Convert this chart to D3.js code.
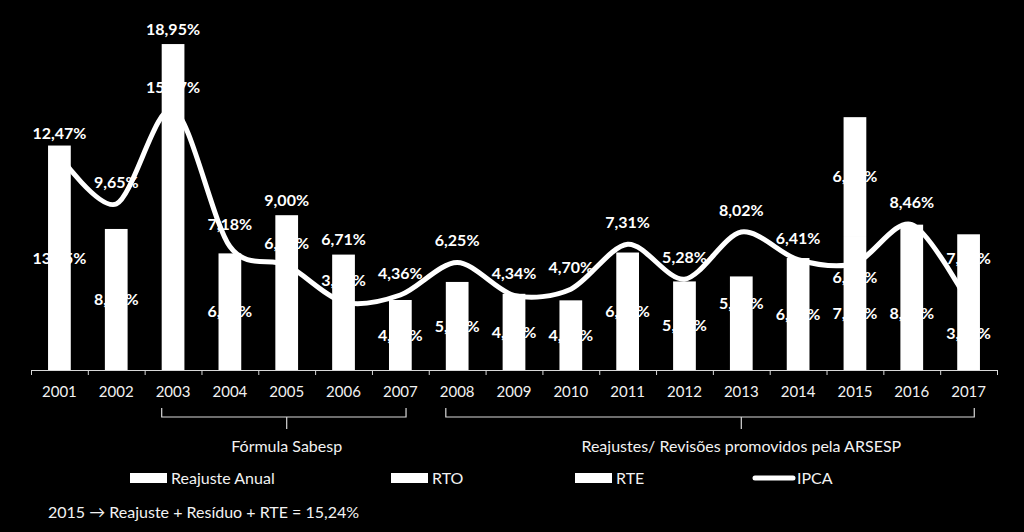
<!DOCTYPE html>
<html>
<head>
<meta charset="utf-8">
<script src="https://cdn.jsdelivr.net/npm/d3@7"></script>
<style>
  html, body { margin: 0; padding: 0; background: #000; }
  svg { display: block; font-family: Lato, "Open Sans", sans-serif; }
</style>
</head>
<body>
<svg id="chart" width="1024" height="532"></svg>
<script>
// values (%)
const years = ["2001", "2002", "2003", "2004", "2005", "2006", "2007", "2008", "2009",
  "2010", "2011", "2012", "2013", "2014", "2015", "2016", "2017"];
const reajuste = [13.05, 8.20, 18.95, 6.78, 9.00, 6.71, 4.07, 5.12, 4.43,
  4.05, 6.83, 5.15, 5.44, 6.51, 7.79, 8.45, 7.89];
const rte = [0, 0, 0, 0, 0, 0, 0, 0, 0, 0, 0, 0, 0, 0, 6.91, 0, 0];
const ipca = [12.47, 9.65, 15.17, 7.18, 6.10, 3.95, 4.36, 6.25, 4.34,
  4.70, 7.31, 5.28, 8.02, 6.41, 6.20, 8.46, 3.90];
const legendItems = ["Reajuste Anual", "RTO", "RTE", "IPCA"];
const periods = [
  { from: "2003", to: "2007", mid: "2005", label: "Fórmula Sabesp" },
  { from: "2008", to: "2017", mid: "2013", label: "Reajustes/ Revisões promovidos pela ARSESP" }
];
const note = "2015 \u2192 Reajuste + Resíduo + RTE = 15,24%";

// label placement tweaks (the original labels were moved by hand)
const outsideLabel = new Set(["2003", "2005", "2006"]);
const barLabelDy = { "2013": -20, "2015": 10, "2016": 16, "2017": -44 };
const lineLabelDy = { "2015": 14, "2017": 30 };

const svg = d3.select("#chart");
const left = 31, right = 997, base = 370;

const x = d3.scaleBand().domain(years).range([left, right]).padding(0);
const y = d3.scaleLinear().domain([0, 20]).range([base, 26]);
const bw = x.bandwidth();
const barW = bw * 0.4;
const cx = d => x(d) + bw / 2;

const pt = d3.formatLocale({ decimal: ",", thousands: ".", grouping: [3], currency: ["", ""] }).format(".2f");
const pct = v => pt(v) + "%";

const rows = years.map((yr, i) => ({ yr, reaj: reajuste[i], rte: rte[i], ipca: ipca[i] }));

// bars (reajuste, with rte stacked on top)
svg.append("g").selectAll("rect.reaj")
  .data(rows)
  .join("rect")
  .attr("x", d => cx(d.yr) - barW / 2)
  .attr("y", d => y(d.reaj))
  .attr("width", barW)
  .attr("height", d => base - y(d.reaj))
  .attr("fill", "#fff");

svg.append("g").selectAll("rect.rte")
  .data(rows.filter(d => d.rte > 0))
  .join("rect")
  .attr("x", d => cx(d.yr) - barW / 2)
  .attr("y", d => y(d.reaj + d.rte))
  .attr("width", barW)
  .attr("height", d => y(d.reaj) - y(d.reaj + d.rte))
  .attr("fill", "#fff");

// axis: edge ticks + year labels
const edge = d3.scaleLinear().domain([0, years.length]).range([left, right]);
svg.append("g")
  .attr("transform", `translate(0,${base})`)
  .call(d3.axisBottom(edge).tickValues(d3.range(years.length + 1)).tickFormat("").tickSize(5).tickSizeOuter(0))
  .call(g => g.selectAll("path, line").attr("stroke", "#d9d9d9"));

svg.append("g")
  .attr("transform", `translate(0,${base})`)
  .call(d3.axisBottom(x).tickSize(0).tickPadding(16))
  .call(g => g.select(".domain").remove())
  .call(g => g.selectAll("text").attr("fill", "#f2f2f2").attr("font-size", 15).attr("font-family", "Lato"));

// IPCA line
const line = d3.line()
  .x(d => cx(d.yr))
  .y(d => y(d.ipca))
  .curve(d3.curveCardinal.tension(0.1));

svg.append("path")
  .datum(rows)
  .attr("d", line)
  .attr("fill", "none")
  .attr("stroke", "#fff")
  .attr("stroke-width", 5)
  .attr("stroke-linecap", "round");

// data labels
const labels = svg.append("g")
  .attr("font-size", 16)
  .attr("font-weight", "bold")
  .attr("fill", "#fff")
  .attr("text-anchor", "middle");

labels.selectAll("text.bar")
  .data(rows)
  .join("text")
  .attr("x", d => cx(d.yr))
  .attr("y", d => outsideLabel.has(d.yr)
    ? y(d.reaj) - 15
    : (y(d.reaj) + base) / 2 + (barLabelDy[d.yr] || 0))
  .attr("dy", "0.36em")
  .text(d => pct(d.reaj));

labels.selectAll("text.rte")
  .data(rows.filter(d => d.rte > 0))
  .join("text")
  .attr("x", d => cx(d.yr))
  .attr("y", d => (y(d.reaj) + y(d.reaj + d.rte)) / 2)
  .attr("dy", "0.36em")
  .text(d => pct(d.rte));

labels.selectAll("text.ipca")
  .data(rows)
  .join("text")
  .attr("x", d => cx(d.yr))
  .attr("y", d => y(d.ipca) + (lineLabelDy[d.yr] !== undefined ? lineLabelDy[d.yr] : -22))
  .attr("dy", "0.36em")
  .text(d => pct(d.ipca));

// period braces
const braces = svg.append("g").attr("stroke", "#d9d9d9").attr("fill", "none").attr("stroke-width", 1.2);
periods.forEach(p => {
  const x0 = x(p.from) + bw * 0.3;
  const x1 = x(p.to) + bw * 0.6;
  const xm = cx(p.mid);
  const yb = 417;
  braces.append("path")
    .attr("d", `M${x0},${yb - 9} V${yb} H${x1} V${yb - 9} M${xm},${yb} V${yb + 12}`);
  svg.append("text")
    .attr("x", xm)
    .attr("y", 446)
    .attr("dy", "0.36em")
    .attr("text-anchor", "middle")
    .attr("font-size", 16)
    .attr("fill", "#f2f2f2")
    .text(p.label);
});

// legend
const legendX = [130, 391, 575, 753];
const lg = svg.append("g").attr("font-size", 16).attr("fill", "#f2f2f2");
legendItems.forEach((name, i) => {
  const g = lg.append("g").attr("transform", `translate(${legendX[i]},478)`);
  if (name === "IPCA") {
    g.append("line").attr("x1", 2).attr("x2", 40).attr("y1", 0).attr("y2", 0)
      .attr("stroke", "#fff").attr("stroke-width", 5).attr("stroke-linecap", "round");
  } else {
    g.append("rect").attr("x", 0).attr("y", -5).attr("width", 37).attr("height", 10).attr("fill", "#fff");
  }
  g.append("text").attr("x", name === "IPCA" ? 44 : 41).attr("dy", "0.36em").text(name);
});

svg.append("text")
  .attr("x", 48)
  .attr("y", 512)
  .attr("dy", "0.36em")
  .attr("font-size", 16)
  .attr("fill", "#f2f2f2")
  .text(note);
</script>
</body>
</html>
